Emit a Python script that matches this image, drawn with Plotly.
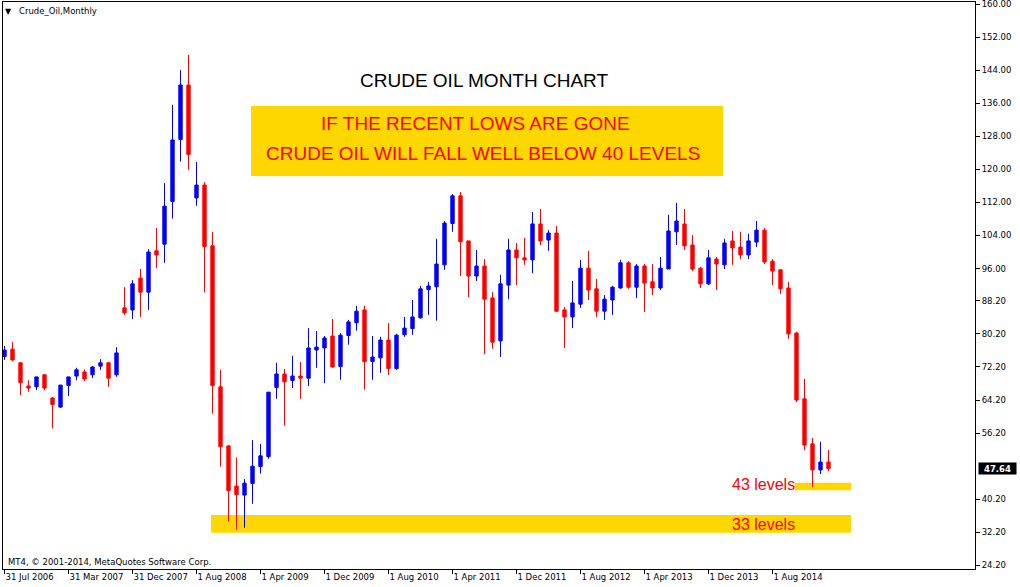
import plotly.graph_objects as go

# ---------------- data ----------------
tick_labels = ["31 Jul 2006", "31 Mar 2007", "31 Dec 2007", "1 Aug 2008", "1 Apr 2009",
               "1 Dec 2009", "1 Aug 2010", "1 Apr 2011", "1 Dec 2011", "1 Aug 2012",
               "1 Apr 2013", "1 Dec 2013", "1 Aug 2014"]
tick_every = 8

opens = [74.7, 76.5, 73.2, 67.6, 67.4, 70.3, 64.7, 62.5, 67.7, 70.0,
         71.0, 70.3, 72.4, 73.2, 70.3, 86.5, 86.0, 93.7, 90.3, 100.3,
         101.9, 112.2, 127.2, 140.4, 113.1, 116.2, 101.5, 67.4, 53.1, 43.4,
         41.2, 44.0, 48.1, 50.5, 67.2, 70.5, 68.9, 70.0, 69.5, 76.3,
         76.8, 79.7, 72.3, 79.8, 82.9, 86.0, 73.5, 74.4, 78.7, 71.8,
         80.0, 81.5, 84.1, 90.9, 91.6, 96.9, 106.9, 113.6, 102.7, 94.2,
         96.6, 88.9, 78.5, 92.0, 100.5, 98.6, 98.1, 106.8, 102.9, 104.6,
         86.0, 84.3, 87.4, 96.1, 91.1, 85.7, 88.4, 91.3, 97.4, 91.5,
         96.6, 92.8, 91.3, 95.9, 104.9, 106.8, 101.7, 96.1, 92.3, 98.3,
         96.9, 102.7, 101.2, 99.3, 102.4, 105.3, 97.8, 95.7, 91.3, 80.4,
         64.5, 53.6, 47.3, 49.2]
highs = [77.3, 78.2, 73.4, 69.0, 69.8, 70.5, 64.9, 67.9, 69.8, 72.0,
         71.6, 72.4, 74.1, 73.4, 77.0, 91.5, 93.2, 95.9, 100.7, 105.8,
         116.7, 135.6, 144.0, 147.7, 121.8, 116.9, 104.9, 71.5, 53.3, 50.3,
         45.1, 54.5, 53.6, 66.1, 73.2, 71.7, 74.9, 73.4, 81.6, 80.9,
         79.7, 83.8, 80.4, 83.6, 87.0, 87.0, 79.7, 79.5, 82.8, 80.2,
         84.3, 88.4, 91.8, 92.8, 103.2, 107.5, 114.0, 114.5, 102.7, 100.5,
         98.3, 90.3, 94.5, 103.2, 102.2, 103.4, 109.7, 110.4, 105.3, 106.3,
         86.7, 93.0, 98.1, 100.3, 93.5, 89.6, 91.8, 98.1, 97.8, 97.1,
         97.1, 97.1, 98.8, 109.0, 111.9, 110.4, 104.1, 96.4, 100.5, 98.8,
         103.2, 105.1, 104.9, 104.4, 107.5, 105.8, 98.3, 95.7, 92.8, 80.7,
         69.3, 55.0, 54.1, 52.1]
lows = [73.9, 73.6, 65.4, 66.2, 66.6, 66.6, 57.3, 62.3, 65.2, 69.0,
        68.8, 69.5, 71.5, 67.4, 69.8, 84.8, 83.8, 84.3, 86.0, 96.1,
        97.4, 108.1, 121.9, 119.9, 111.2, 90.2, 60.9, 48.1, 34.8, 32.8,
        33.3, 39.1, 46.4, 50.0, 64.5, 58.0, 67.1, 64.5, 67.6, 72.0,
        68.3, 72.0, 69.1, 77.6, 81.0, 66.7, 69.1, 70.8, 70.3, 71.5,
        79.5, 80.0, 83.9, 84.8, 83.4, 95.7, 104.9, 94.2, 89.1, 93.0,
        75.3, 76.6, 74.6, 88.6, 92.0, 96.9, 94.9, 101.7, 100.3, 85.5,
        76.8, 81.6, 86.5, 88.4, 84.3, 83.6, 84.8, 91.1, 91.1, 88.9,
        85.5, 89.6, 90.8, 95.9, 101.7, 100.5, 95.4, 91.3, 92.0, 90.8,
        95.9, 96.9, 98.3, 98.3, 101.2, 97.1, 92.0, 89.9, 79.0, 63.7,
        52.1, 43.2, 46.3, 47.0]
closes = [76.3, 73.9, 68.4, 67.1, 69.8, 67.1, 63.1, 67.8, 69.8, 71.5,
          69.3, 72.2, 73.2, 69.5, 75.6, 85.3, 92.3, 90.3, 100.0, 99.3,
          111.1, 127.1, 140.4, 123.6, 116.2, 101.3, 67.7, 52.9, 42.3, 41.3,
          44.1, 48.2, 50.7, 66.1, 70.5, 68.6, 70.0, 69.5, 76.8, 77.0,
          79.2, 72.2, 79.9, 83.1, 85.7, 73.5, 74.6, 78.7, 71.8, 79.9,
          81.6, 84.3, 91.1, 91.8, 97.1, 107.0, 113.6, 102.5, 94.2, 96.6,
          88.6, 78.2, 92.3, 100.5, 98.6, 98.1, 106.8, 102.7, 104.6, 85.7,
          84.3, 87.7, 96.1, 90.8, 85.7, 88.6, 91.5, 97.4, 91.5, 96.6,
          92.5, 91.3, 96.1, 105.1, 107.5, 101.5, 95.9, 92.3, 98.6, 97.1,
          102.2, 101.0, 99.3, 102.7, 105.3, 97.6, 95.4, 91.1, 80.2, 64.2,
          53.3, 47.3, 49.2, 47.64]

y_tick_values = [160.00, 152.00, 144.00, 136.00, 128.00, 120.00, 112.00, 104.00,
                 96.00, 88.20, 80.20, 72.20, 64.20, 56.20, 40.20, 32.20, 24.20]
last_price = closes[-1]

zone_43 = (42.4, 44.2)
zone_33 = (32.1, 36.4)

# ---------------- pixel helpers for layout placement ----------------
X0_PX, DX_PX = 4.5, 8.0            # pixel of bar 0, pixels per bar
Y_TOP_VAL, Y_TOP_PX, PX_PER_UNIT = 160.0, 4.0, 4.134
PLOT_L, PLOT_R, PLOT_T, PLOT_B = 3, 975, 2, 569
W, H = 1020, 587


def px2x(p):
    return (p - X0_PX) / DX_PX


def py2y(p):
    return Y_TOP_VAL - (p - Y_TOP_PX) / PX_PER_UNIT


n = len(opens)
xs = list(range(n))

fig = go.Figure()
fig.add_trace(go.Candlestick(
    x=xs, open=opens, high=highs, low=lows, close=closes,
    increasing=dict(line=dict(color="#0000FF", width=1), fillcolor="#0000FF"),
    decreasing=dict(line=dict(color="#FF0000", width=1), fillcolor="#FF0000"),
    hoverinfo="skip", showlegend=False,
))

tick_vals = [i * tick_every for i in range(len(tick_labels))]

tick_font = dict(family="DejaVu Sans", size=8.5, color="#000000")
fig.update_layout(
    width=W, height=H, autosize=False,
    margin=dict(l=PLOT_L, r=W - PLOT_R, t=PLOT_T, b=H - PLOT_B, pad=0),
    paper_bgcolor="white", plot_bgcolor="white",
    boxgap=0.4,
    showlegend=False,
    hovermode=False,
    xaxis=dict(
        range=[px2x(PLOT_L), px2x(PLOT_R)],
        tickvals=tick_vals, ticktext=tick_labels,
        ticks="outside", ticklen=4, tickcolor="black", tickwidth=1,
        ticklabelposition="outside right",
        ticklabeloverflow="allow",
        showline=True, mirror=True, linecolor="black", linewidth=1,
        showgrid=False, zeroline=False,
        rangeslider=dict(visible=False),
        tickfont=tick_font, automargin=False,
        fixedrange=True,
    ),
    yaxis=dict(
        side="right",
        range=[py2y(PLOT_B), py2y(PLOT_T)],
        tickvals=y_tick_values,
        ticktext=[f"{v:.2f}" for v in y_tick_values],
        ticks="outside", ticklen=4, tickcolor="black", tickwidth=1,
        ticklabeloverflow="allow",
        showline=True, mirror=True, linecolor="black", linewidth=1,
        showgrid=False, zeroline=False,
        tickfont=tick_font, automargin=False,
        fixedrange=True,
    ),
)

gold = "#FFD700"
fig.add_shape(type="rect", xref="x", yref="y",
              x0=px2x(251), x1=px2x(723), y0=py2y(176), y1=py2y(106),
              fillcolor=gold, line=dict(width=0), layer="below")
fig.add_shape(type="rect", xref="x", yref="y",
              x0=px2x(795), x1=px2x(851), y0=zone_43[0], y1=zone_43[1],
              fillcolor=gold, line=dict(width=0), layer="below")
fig.add_shape(type="rect", xref="x", yref="y",
              x0=px2x(211), x1=px2x(851), y0=zone_33[0], y1=zone_33[1],
              fillcolor=gold, line=dict(width=0), layer="below")

big_font = "Liberation Sans, Arial, sans-serif"


def note(text, px, py, size, color, family=big_font, xanchor="center", **kw):
    fig.add_annotation(x=px2x(px), y=py2y(py), xref="x", yref="y", text=text,
                       showarrow=False, xanchor=xanchor, yanchor="middle",
                       font=dict(family=family, size=size, color=color), **kw)


note("▼", 8, 11, 8, "#000000", family="DejaVu Sans")
note("Crude_Oil,Monthly", 17, 11, 8.5, "#000000", family="DejaVu Sans", xanchor="left")
note("CRUDE OIL MONTH CHART", 483.5, 80, 19, "#000000")
note("IF THE RECENT LOWS ARE GONE", 475, 123.5, 19, "#FF0000")
note("CRUDE OIL WILL FALL WELL BELOW 40 LEVELS", 482.7, 153.5, 19, "#FF0000")
note("43 levels", 763, 484.5, 16, "#FF0000")
note("33 levels", 763, 524, 16, "#FF0000")
note("MT4, © 2001-2014, MetaQuotes Software Corp.", 6, 562, 8.5, "#000000",
     family="DejaVu Sans", xanchor="left")

fig.add_annotation(x=1, xref="paper", y=last_price, yref="y", text=f"<b>{last_price:.2f}</b>",
                   showarrow=False, xanchor="left", yanchor="middle", xshift=3,
                   bgcolor="#000000", width=37, height=11, borderpad=0,
                   font=dict(family="DejaVu Sans", size=8.5, color="#FFFFFF"))

fig.write_html("out.html",
               config={"displayModeBar": False, "staticPlot": True},
               post_script="document.body.style.margin='0';document.body.style.overflow='hidden';")
